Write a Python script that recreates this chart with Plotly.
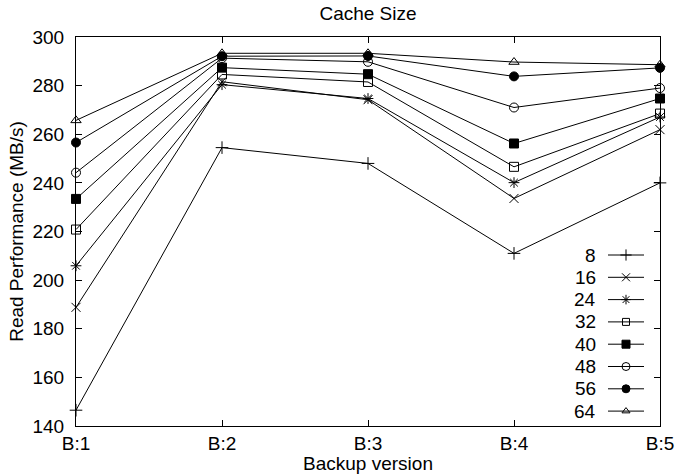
import plotly.graph_objects as go

# Backup versions on the x axis and cache sizes (one line each)
versions = ["B:1", "B:2", "B:3", "B:4", "B:5"]
cache_sizes = ["8", "16", "24", "32", "40", "48", "56", "64"]

# Read performance (MB/s) per cache size
read_8 = [146.5, 254.5, 248.0, 211.0, 240.0]
read_16 = [188.8, 281.6, 274.2, 233.6, 261.9]
read_24 = [205.9, 280.4, 274.7, 240.1, 267.1]
read_32 = [220.8, 284.6, 281.5, 246.6, 268.5]
read_40 = [233.4, 287.4, 284.7, 256.2, 274.7]
read_48 = [244.2, 291.3, 289.8, 271.0, 279.0]
read_56 = [256.6, 292.1, 292.2, 283.8, 287.3]
read_64 = [265.7, 293.3, 293.3, 289.7, 288.6]

y_ticks = [140, 160, 180, 200, 220, 240, 260, 280, 300]

series = [read_8, read_16, read_24, read_32, read_40, read_48, read_56, read_64]
symbols = ["cross-thin-open", "x-thin-open", "asterisk-open", "square-open",
           "square", "circle-open", "circle", "triangle-up-open"]
sizes = [9, 9, 9, 9, 9, 9, 9, 9]
key_sizes = [8, 8, 8, 7, 8, 8, 8, 7]

FONT = "Liberation Sans, Arial, Helvetica, sans-serif"
FS = 19
W, H = 678, 474
L, R, T, B = 76, 18, 37, 48

fig = go.Figure()

for name, vals, sym, sz in zip(cache_sizes, series, symbols, sizes):
    fig.add_trace(go.Scatter(
        x=versions, y=vals, name=name, mode="lines+markers",
        line=dict(color="black", width=1),
        marker=dict(symbol=sym, size=sz, color="black",
                    line=dict(color="black", width=1)),
        cliponaxis=False, showlegend=False,
    ))

# Key in the lower right: label, then a short line with the marker
x_lo, x_hi = L, W - R
y_top, y_bot = T, H - B
key_y0, key_dy = 255, 22.3
key_text_x, key_line = 598, (608, 644)
key_mark_x = (key_line[0] + key_line[1]) / 2
for i, (name, sym, sz) in enumerate(zip(cache_sizes, symbols, key_sizes)):
    yy = key_y0 + key_dy * i
    fig.add_shape(type="line", xref="x2", yref="y2",
                  x0=key_line[0], x1=key_line[1], y0=yy, y1=yy,
                  line=dict(color="black", width=1))
    fig.add_annotation(xref="x2", yref="y2", x=key_text_x, y=yy,
                       text=name, showarrow=False, xanchor="right",
                       yanchor="middle",
                       font=dict(family=FONT, size=FS, color="black"))
    fig.add_trace(go.Scatter(
        x=[key_mark_x], y=[yy], xaxis="x2", yaxis="y2", mode="markers",
        marker=dict(symbol=sym, size=sz, color="black",
                    line=dict(color="black", width=1)),
        showlegend=False, hoverinfo="skip", cliponaxis=False,
    ))

fig.update_layout(
    width=W, height=H,
    margin=dict(l=L, r=R, t=T, b=B, pad=0, autoexpand=False),
    paper_bgcolor="white", plot_bgcolor="white",
    font=dict(family=FONT, size=FS, color="black"),
    title=dict(text="Cache Size", x=0.5, xref="paper", xanchor="center",
               y=1 - 13 / H, yref="container", yanchor="middle",
               font=dict(family=FONT, size=FS, color="black")),
    xaxis=dict(
        type="category", categoryorder="array", categoryarray=versions,
        range=[0, len(versions) - 1], automargin=False,
        showgrid=False, zeroline=False,
        showline=True, linecolor="black", linewidth=1, mirror="ticks",
        ticks="inside", ticklen=6, tickcolor="black", tickwidth=1,
        tickfont=dict(family=FONT, size=FS, color="black"),
        ticklabelstandoff=0,
        title=dict(text="Backup version", standoff=2,
                   font=dict(family=FONT, size=FS, color="black")),
    ),
    yaxis=dict(
        range=[y_ticks[0], y_ticks[-1]], tickvals=y_ticks, automargin=False,
        showgrid=False, zeroline=False,
        showline=True, linecolor="black", linewidth=1, mirror="ticks",
        ticks="inside", ticklen=6, tickcolor="black", tickwidth=1,
        tickfont=dict(family=FONT, size=FS, color="black"),
        ticklabelstandoff=7,
        title=dict(text="Read Performance (MB/s)", standoff=3,
                   font=dict(family=FONT, size=FS, color="black")),
    ),
    xaxis2=dict(overlaying="x", range=[x_lo, x_hi], visible=False,
                fixedrange=True),
    yaxis2=dict(overlaying="y", range=[y_bot, y_top], visible=False,
                fixedrange=True),
)

fig.write_html("out.html")
